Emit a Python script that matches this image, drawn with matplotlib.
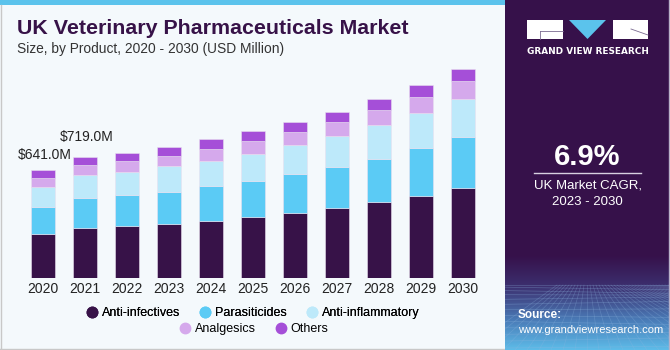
import numpy as np
import matplotlib
matplotlib.use("Agg")
import matplotlib.pyplot as plt
from matplotlib.patches import Rectangle, Polygon
from matplotlib.lines import Line2D

years = ["2020", "2021", "2022", "2023", "2024", "2025", "2026", "2027", "2028", "2029", "2030"]
anti_infectives = [260, 299, 308, 320, 342, 364, 389, 417, 451, 486, 536]
parasiticides = [160, 180, 187, 193, 206, 215, 230, 245, 259, 286, 304]
anti_inflammatory = [123, 131, 135, 150, 150, 160, 170, 182, 202, 208, 224]
analgesics = [53, 60, 63, 61, 69, 74, 79, 83, 85, 95, 105]
others = [45, 49, 51, 53, 58, 61, 59, 59, 67, 71, 71]
series_names = ["Anti-infectives", "Parasiticides", "Anti-inflammatory", "Analgesics", "Others"]
colors = ["#371248", "#5BCBF5", "#BDE9FA", "#D5A9EC", "#A54FD8"]
annotations = {0: "$641.0M", 1: "$719.0M"}
cagr = "6.9%"

W, H = 670, 350
fig = plt.figure(figsize=(W / 100, H / 100), dpi=100)
fig.patch.set_facecolor("#F4F9FC")

def fx(px):
    return px / W

def fy(py):
    return 1 - py / H

# background decorations
bg = fig.add_axes([0, 0, 1, 1], zorder=0)
bg.set_xlim(0, W)
bg.set_ylim(H, 0)
bg.axis("off")
bg.add_patch(Rectangle((0, 0), 505, 5, color="#5BC3EC", lw=0))
bg.add_line(Line2D([0.5, 0.5], [5, H], color="#C8C8C8", lw=1))
bg.add_line(Line2D([0, 505], [H - 1, H - 1], color="#C8C8C8", lw=1))

# right panel
pan = fig.add_axes([fx(505), 0, fx(165), 1], zorder=1)
pan.set_xlim(0, 165)
pan.set_ylim(H, 0)
pan.axis("off")
grad = np.zeros((H, 1, 3))
top = np.array([0x36, 0x11, 0x4A]) / 255
mid = np.array([0x3C, 0x2E, 0x6E]) / 255
low = np.array([0x4A, 0x7C, 0xB8]) / 255
bot = np.array([0x5E, 0xBE, 0xEA]) / 255
for i in range(H):
    if i < 255:
        c = top
    elif i < 285:
        t = (i - 255) / 30
        c = top * (1 - t) + mid * t
    elif i < 320:
        t = (i - 285) / 35
        c = mid * (1 - t) + low * t
    else:
        t = (i - 320) / 30
        c = low * (1 - t) + bot * t
    grad[i, 0] = c
pan.imshow(grad, extent=[0, 165, H, 0], aspect="auto", zorder=0)
# grid pattern at bottom
for k in range(0, 14):
    yy = 285 + (k ** 1.35) * 2.2
    if yy < H:
        pan.add_line(Line2D([0, 165], [yy, yy + 3 * np.sin(k)], color="#8FB6E0", lw=0.5, alpha=0.35, zorder=1))
for k in range(-10, 30):
    x0 = 82 + k * 3
    x1 = 82 + k * 12
    pan.add_line(Line2D([x0, x1], [285, H], color="#8FB6E0", lw=0.5, alpha=0.3, zorder=1))
pan.add_line(Line2D([163.5, 163.5], [0, H], color="#B8B0C8", lw=1, zorder=2))

# logo
pan.add_patch(Rectangle((22, 20), 36, 19, color="white", lw=0, zorder=3))
pan.add_line(Line2D([35, 58], [31, 31], color="#7A6A90", lw=0.6, zorder=4))
pan.add_line(Line2D([35, 35], [31, 39], color="#7A6A90", lw=0.6, zorder=4))
pan.add_patch(Polygon([(64, 20), (101, 20), (82.5, 39)], closed=True, color="#5BC3EC", lw=0, zorder=3))
pan.add_patch(Rectangle((108, 20), 35, 19, color="white", lw=0, zorder=3))
pan.add_line(Line2D([126, 143], [29, 35], color="#7A6A90", lw=0.6, zorder=4))
pan.text(82.5, 51, "GRAND VIEW RESEARCH", color="white", fontsize=6.4, fontweight="bold",
         family="DejaVu Sans", ha="center", va="center", zorder=4)

pan.text(82.5, 157, cagr, color="white", fontsize=21, fontweight="bold",
         family="Liberation Sans", ha="center", va="center", zorder=4)
pan.add_line(Line2D([29, 136], [173, 173], color="#D8D0E0", lw=1, zorder=4))
pan.text(82.5, 186, "UK Market CAGR,", color="white", fontsize=9.5,
         family="Liberation Sans", ha="center", va="center", zorder=4)
pan.text(82.5, 202, "2023 - 2030", color="white", fontsize=9.5,
         family="Liberation Sans", ha="center", va="center", zorder=4)
pan.text(13, 315, "Source:", color="white", fontsize=8.5, fontweight="bold",
         family="Liberation Sans", ha="left", va="center", zorder=4)
pan.text(13, 330, "www.grandviewresearch.com", color="white", fontsize=8,
         family="Liberation Sans", ha="left", va="center", zorder=4)

# titles
fig.text(fx(17), fy(28), "UK Veterinary Pharmaceuticals Market", color="#371248",
         fontsize=15.4, fontweight="heavy", family="Liberation Sans", ha="left", va="center")
fig.text(fx(17), fy(49), "Size, by Product, 2020 - 2030 (USD Million)", color="#333333",
         fontsize=9.9, family="Liberation Sans", ha="left", va="center")

# chart
ymax = 1300
scale = 5.93
base_py = 278.3
ax_h = ymax / scale
ax = fig.add_axes([fx(21.8), fy(base_py), fx(462), ax_h / H], zorder=2)
ax.set_facecolor("none")
x = np.arange(len(years))
bottom = np.zeros(len(years))
data = [anti_infectives, parasiticides, anti_inflammatory, analgesics, others]
for vals, col, name in zip(data, colors, series_names):
    ax.bar(x, vals, width=0.58, bottom=bottom, color=col, edgecolor="#E8E0F0",
           linewidth=0.4, label=name)
    bottom = bottom + np.array(vals)
ax.set_xlim(-0.5, len(years) - 0.5)
ax.set_ylim(0, ymax)
ax.set_xticks(x)
ax.set_xticklabels(years, fontsize=10, family="Liberation Sans", color="#222222")
ax.tick_params(axis="x", length=0, pad=3)
ax.set_yticks([])
for s in ax.spines.values():
    s.set_visible(False)

ann_offsets = {0: (-0.6, 15 * scale), 1: (-0.6, 20 * scale)}
for i, txt in annotations.items():
    dx, dy = ann_offsets[i]
    ax.text(x[i] + dx, bottom[i] + dy, txt, fontsize=10, family="Liberation Sans",
            color="#222222", ha="left", va="center")

# legend
handles = [Line2D([], [], marker="o", linestyle="none", markersize=7.5,
                  markerfacecolor=c, markeredgecolor=c) for c in colors]
leg1 = fig.legend(handles[:3], series_names[:3], loc="center", ncol=3,
                  bbox_to_anchor=(fx(252), fy(313)), frameon=False,
                  prop={"family": "Liberation Sans", "size": 9},
                  handletextpad=0.2, columnspacing=1.4, handlelength=1.2)
leg2 = fig.legend(handles[3:], series_names[3:], loc="center", ncol=2,
                  bbox_to_anchor=(fx(253), fy(329)), frameon=False,
                  prop={"family": "Liberation Sans", "size": 9},
                  handletextpad=0.2, columnspacing=1.4, handlelength=1.2)
fig.add_artist(leg1)

fig.savefig("out.png", dpi=100, facecolor=fig.get_facecolor())
